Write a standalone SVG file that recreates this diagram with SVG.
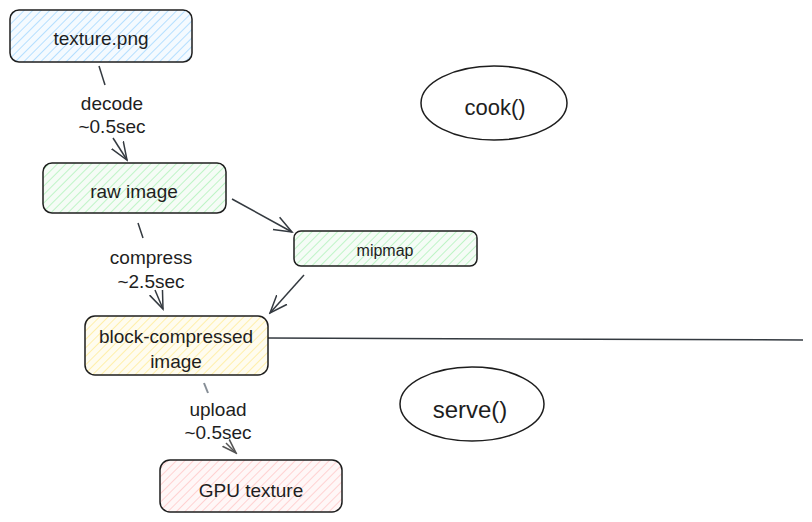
<svg xmlns="http://www.w3.org/2000/svg" width="812" height="522" viewBox="0 0 812 522">
<defs>
<pattern id="hb" width="6" height="6" patternUnits="userSpaceOnUse" patternTransform="rotate(45)"><rect width="6" height="6" fill="#f4faff"/><line x1="0" y1="0" x2="0" y2="6" stroke="#a5d8ff" stroke-width="1.6"/></pattern>
<pattern id="hg" width="6" height="6" patternUnits="userSpaceOnUse" patternTransform="rotate(45)"><rect width="6" height="6" fill="#f5fcf6"/><line x1="0" y1="0" x2="0" y2="6" stroke="#b2f2bb" stroke-width="1.6"/></pattern>
<pattern id="hy" width="6" height="6" patternUnits="userSpaceOnUse" patternTransform="rotate(45)"><rect width="6" height="6" fill="#fffcef"/><line x1="0" y1="0" x2="0" y2="6" stroke="#ffec99" stroke-width="1.6"/></pattern>
<pattern id="hr" width="6" height="6" patternUnits="userSpaceOnUse" patternTransform="rotate(45)"><rect width="6" height="6" fill="#fff7f7"/><line x1="0" y1="0" x2="0" y2="6" stroke="#ffc9c9" stroke-width="1.6"/></pattern>
<marker id="ah" viewBox="0 0 20 20" refX="18" refY="10" markerWidth="20" markerHeight="20" markerUnits="userSpaceOnUse" orient="auto"><path d="M0,3 L18,10 L0,17" fill="none" stroke="#343a40" stroke-width="1.5"/></marker>
<marker id="ahg" viewBox="0 0 20 20" refX="18" refY="10" markerWidth="16" markerHeight="16" markerUnits="userSpaceOnUse" orient="auto"><path d="M0,4 L18,10 L0,16" fill="none" stroke="#555" stroke-width="2"/></marker>
</defs>
<style>
.box{stroke:#1e1e1e;stroke-width:1.5}
.t{font-family:"Liberation Sans","DejaVu Sans",sans-serif;fill:#1e1e1e;text-anchor:middle;dominant-baseline:central}
.c{stroke:#343a40;stroke-width:1.5;fill:none}
</style>
<g id="connectors">
<line class="c" x1="99" y1="66" x2="105" y2="85"/>
<line class="c" x1="113" y1="138" x2="127" y2="160" marker-end="url(#ah)"/>
<line class="c" x1="232" y1="199" x2="292" y2="232" marker-end="url(#ah)"/>
<line class="c" x1="304" y1="275" x2="270" y2="313" marker-end="url(#ah)"/>
<line class="c" x1="138" y1="223" x2="143" y2="238"/>
<line class="c" x1="155" y1="290" x2="163" y2="309" marker-end="url(#ah)"/>
<line x1="204" y1="383" x2="208" y2="393" stroke="#868e96" stroke-width="2"/>
<line x1="226" y1="443" x2="236" y2="453" stroke="#555" stroke-width="1.5" marker-end="url(#ahg)"/>
<line class="c" x1="268" y1="338" x2="803" y2="340"/>
<text class="t" x="112" y="103" font-size="19">decode</text>
<text class="t" x="112" y="126" font-size="19">~0.5sec</text>
<text class="t" x="151" y="257" font-size="19">compress</text>
<text class="t" x="151" y="281" font-size="19">~2.5sec</text>
<text class="t" x="218" y="409" font-size="19">upload</text>
<text class="t" x="218" y="432" font-size="19">~0.5sec</text>
</g>
<g id="texture-png">
<rect class="box" x="10" y="10" width="182" height="52" rx="9" fill="url(#hb)"/>
<text class="t" x="101" y="38" font-size="19">texture.png</text>
</g>
<g id="raw-image">
<rect class="box" x="43" y="163" width="183" height="50" rx="9" fill="url(#hg)"/>
<text class="t" x="134" y="191" font-size="19">raw image</text>
</g>
<g id="mipmap">
<rect class="box" x="294" y="231" width="183" height="35" rx="7" fill="url(#hg)"/>
<text class="t" x="385" y="250" font-size="16">mipmap</text>
</g>
<g id="block-compressed">
<rect class="box" x="85" y="316" width="183" height="59" rx="10" fill="url(#hy)"/>
<text class="t" x="176" y="336" font-size="19">block-compressed</text>
<text class="t" x="176" y="361" font-size="19">image</text>
</g>
<g id="gpu-texture">
<rect class="box" x="160" y="460" width="182" height="52" rx="10" fill="url(#hr)"/>
<text class="t" x="251" y="490" font-size="19">GPU texture</text>
</g>
<g id="cook">
<ellipse cx="494" cy="103" rx="73" ry="37" fill="none" stroke="#1e1e1e" stroke-width="1.5"/>
<text class="t" x="495" y="107" font-size="22">cook()</text>
</g>
<g id="serve">
<ellipse cx="472" cy="404" rx="72" ry="37" fill="none" stroke="#1e1e1e" stroke-width="1.5"/>
<text class="t" x="470" y="409" font-size="24">serve()</text>
</g>
</svg>
